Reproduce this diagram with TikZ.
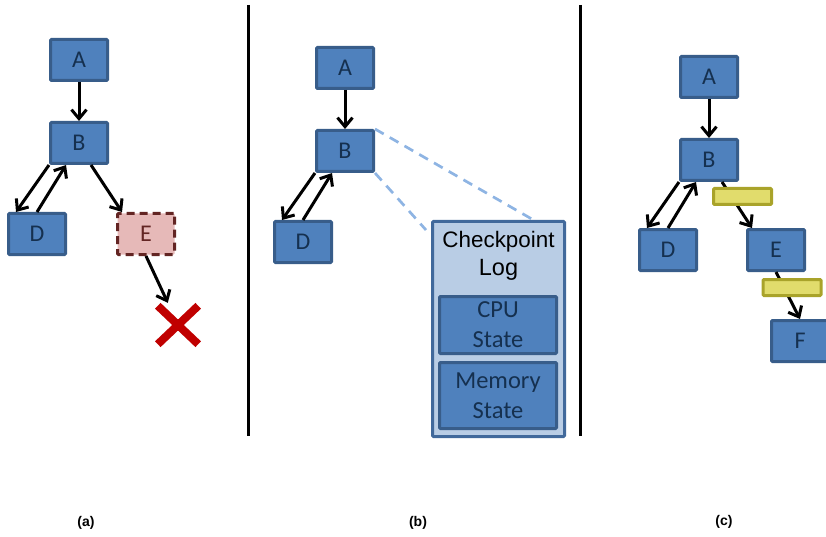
\documentclass[tikz,border=0pt]{standalone}
\usepackage{fontspec}
\setmainfont{Carlito}
\newfontfamily\arialf{Liberation Sans}
\usetikzlibrary{arrows.meta,backgrounds}
\definecolor{boxfill}{HTML}{4F81BD}
\definecolor{boxline}{HTML}{385D8A}
\definecolor{boxtext}{HTML}{15304F}
\definecolor{logfill}{HTML}{B9CDE5}
\definecolor{logline}{HTML}{41699B}
\definecolor{failfill}{HTML}{E6B9B8}
\definecolor{failline}{HTML}{632523}
\definecolor{crossred}{HTML}{C00000}
\definecolor{barfill}{HTML}{E1DC6C}
\definecolor{barline}{HTML}{A9A32A}
\definecolor{zoomline}{HTML}{8EB4E3}
\tikzset{
  task/.style={rectangle, fill=boxfill, draw=boxline, line width=3pt, rounded corners=1pt,
    minimum width=57pt, minimum height=41pt, inner sep=0pt, text=boxtext,
    font=\fontsize{24}{28}\selectfont},
  failed/.style={task, fill=failfill, draw=failline, text=failline,
    dash pattern=on 8pt off 5pt},
  logbox/.style={rectangle, fill=logfill, draw=logline, line width=3pt, rounded corners=1pt, inner sep=0pt},
  statebox/.style={rectangle, fill=boxfill, draw=boxline, line width=3pt, rounded corners=1pt, inner sep=0pt,
    minimum width=117pt, text=boxtext, align=center, font=\fontsize{24.5}{30}\selectfont},
  logbar/.style={rectangle, fill=barfill, draw=barline, line width=3pt, rounded corners=1pt, inner sep=0pt,
    minimum width=58pt, minimum height=16pt},
  flow/.style={line width=3pt, -{Straight Barb[length=9pt,width=15pt]}},
  divider/.style={line width=3pt, black},
  zoomed/.style={zoomline, line width=2.7pt, dash pattern=on 10pt off 7pt},
  caption/.style={font=\arialf\bfseries\fontsize{14}{16}\selectfont}
}
\begin{document}
\begin{tikzpicture}[x=1pt,y=-1pt]
\useasboundingbox (0,0) rectangle (826,537);

% dividers
\coordinate (l1t) at (248,5); \coordinate (l1b) at (248,436);
\coordinate (l2t) at (580,5); \coordinate (l2b) at (580,436);
\draw[divider] (l1t) -- (l1b);
\draw[divider] (l2t) -- (l2b);

% ---------- panel (a)
\node[task] (aA) at (79,60) {A};
\node[task] (aB) at (79,143) {B};
\node[task] (aD) at (37,234) {D};
\node[failed] (aE) at (146,234) {E};
\node[rectangle, minimum width=40pt, minimum height=38pt, inner sep=0pt] (aX) at (178,325) {};
\draw[crossred, line width=8pt] (aX.north west) -- (aX.south east);
\draw[crossred, line width=8pt] (aX.south west) -- (aX.north east);
\draw[flow] (aA.south) -- (aB.north);
\draw[flow] (aB.south west) -- ([xshift=9pt]aD.north west);
\draw[flow] (aD.north) -- ([xshift=-13pt]aB.south);
\draw[flow] ([xshift=12pt]aB.south) -- ([xshift=6pt]aE.north west);
\draw[flow] (aE.south) -- ([xshift=10pt,yshift=3pt]aX.north west);
\node[caption] (capa) at (86,523) {(a)};

% ---------- panel (b)
\node[task] (bA) at (345,68) {A};
\node[task] (bB) at (345,151) {B};
\node[task] (bD) at (303,242) {D};
\node[logbox, minimum width=132pt, minimum height=215pt] (log) at (498.5,329) {};
\node[font=\arialf\fontsize{22.4}{24}\selectfont] (chk) at (498.5,242) {Checkpoint};
\node[font=\arialf\fontsize{23.5}{26}\selectfont] (lg) at (498.5,270) {Log};
\node[statebox, minimum height=57pt] (cpu) at (498,325) {CPU\\State};
\node[statebox, minimum height=66pt] (mem) at (498,395.5) {Memory\\State};
\coordinate (zend) at ([xshift=-5pt,yshift=-10pt]log.north west);
\begin{scope}[on background layer]
\draw[zoomed] (bB.north east) -- ([xshift=35pt]log.north);
\draw[zoomed] (bB.south east) -- (zend);
\end{scope}
\draw[flow] (bA.south) -- (bB.north);
\draw[flow] (bB.south west) -- ([xshift=9pt]bD.north west);
\draw[flow] (bD.north) -- ([xshift=-13pt]bB.south);
\node[caption] (capb) at (418,523) {(b)};

% ---------- panel (c)
\node[task] (cA) at (709,77) {A};
\node[task] (cB) at (709,160) {B};
\node[task] (cD) at (668,250) {D};
\node[task] (cE) at (776,250) {E};
\node[task] (cF) at (800,341) {F};
\draw[flow] (cA.south) -- (cB.north);
\draw[flow] (cB.south west) -- ([xshift=9pt]cD.north west);
\draw[flow] (cD.north) -- ([xshift=-13pt]cB.south);
\draw[flow] ([xshift=13pt]cB.south) -- ([xshift=6pt]cE.north west);
\draw[flow] (cE.south) -- (cF.north);
\node[logbar] (bar1) at (742.5,196.5) {};
\node[logbar] (bar2) at (792,287.5) {};
\node[caption] (capc) at (724,522) {(c)};
\end{tikzpicture}
\end{document}
